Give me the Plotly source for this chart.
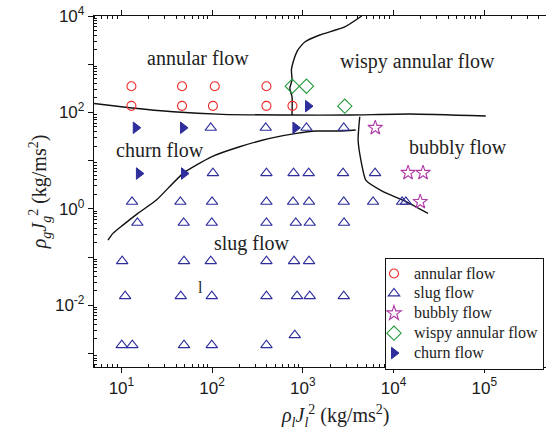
import plotly.graph_objects as go
import numpy as np

# ---------------- data ----------------
annular_x = [12.9, 46.6, 107, 397, 12.9, 46.6, 102, 397, 768]
annular_y = [350, 350, 350, 350, 137, 137, 137, 137, 137]

slug_x = [96.6, 390, 1096, 2825,
          102, 397, 790, 1160, 2773, 6252,
          13.1, 44.7, 99.8, 397, 780, 1170, 2825, 5943, 12420, 13650,
          15.0, 48.6, 99.1, 397, 836, 1191, 2844,
          10.2, 49.0, 96.6, 397, 800, 1170,
          11.0, 45.1, 99.1, 397, 863, 1191, 2825,
          10.1, 13.2, 49.0, 99.1, 397, 815]
slug_y = [48, 48, 48, 48,
          5.5, 5.5, 5.5, 5.5, 5.5, 5.5,
          1.40, 1.40, 1.40, 1.40, 1.40, 1.40, 1.40, 1.40, 1.40, 1.40,
          0.514, 0.514, 0.514, 0.514, 0.514, 0.514, 0.514,
          0.0824, 0.0824, 0.0824, 0.0824, 0.0824, 0.0824,
          0.0155, 0.0155, 0.0155, 0.0155, 0.0155, 0.0155, 0.0155,
          0.00149, 0.00149, 0.00149, 0.00149, 0.00149, 0.0024]

bubbly_x = [6280, 14450, 21130, 19680]
bubbly_y = [48, 5.6, 5.6, 1.40]

wispy_x = [764, 1096, 2900]
wispy_y = [350, 350, 135]

churn_x = [14.4, 47.8, 828, 1140, 15.6, 49.0]
churn_y = [48, 48, 48, 135, 5.4, 5.4]

# regime boundaries
b_annular_x = [5.0, 12.4, 37.1, 131, 718, 3289, 15100, 103800]
b_annular_y = [153, 125, 103, 91.2, 88.3, 88.3, 92.5, 84.1]

b_wispy_x = [760, 760, 718, 760, 748, 794, 879, 1050, 1535, 2897, 4457]
b_wispy_y = [88.3, 211, 316, 470, 757, 1222, 1968, 2884, 4036, 5916, 10000]

b_churn_x = [7.11, 8.07, 10.4, 15.2, 24.3, 47.8, 98.2, 201, 432, 849, 1413, 2553, 3828]
b_churn_y = [0.225, 0.310, 0.460, 0.805, 1.52, 5.45, 12.0, 19.4, 29.0, 36.8, 41.1, 41.1, 43.1]

b_bubbly_x = [4236, 4064, 4426, 4943, 7656, 13870, 23990]
b_bubbly_y = [81.3, 26.7, 8.91, 3.95, 2.28, 1.40, 0.805]

x_tick_vals = [10, 100, 1000, 10000, 100000]
x_tick_text = ["10<sup>1</sup>", "10<sup>2</sup>", "10<sup>3</sup>", "10<sup>4</sup>", "10<sup>5</sup>"]
y_tick_vals = [1e-3, 1e-2, 1e-1, 1, 10, 100, 1000, 10000]
y_tick_text = ["", "10<sup>-2</sup>", "", "10<sup>0</sup>", "", "10<sup>2</sup>", "", "10<sup>4</sup>"]

region_labels = ["annular flow", "wispy annular flow", "churn flow", "bubbly flow", "slug flow", "l"]
region_x = [69, 18500, 26.4, 51000, 273, 75]
region_y = [1340, 1160, 16.6, 19.1, 0.195, 0.0238]

series_names = ["annular flow", "slug flow", "bubbly flow", "wispy annular flow", "churn flow"]

# ---------------- figure ----------------
SERIF = "Liberation Serif"
SANS = "Liberation Sans"
BLUE = "#2e2e9c"


def legend_name(s):
    return '<span style="font-size:16px">' + s + '</span>'


fig = go.Figure()

for bx, by in [(b_annular_x, b_annular_y), (b_wispy_x, b_wispy_y),
               (b_churn_x, b_churn_y), (b_bubbly_x, b_bubbly_y)]:
    fig.add_trace(go.Scatter(x=bx, y=by, mode="lines", showlegend=False,
                             line=dict(color="#111", width=1.4, shape="spline", smoothing=0.5),
                             hoverinfo="skip"))

fig.add_trace(go.Scatter(x=annular_x, y=annular_y, mode="markers", name=legend_name(series_names[0]),
                         marker=dict(symbol="circle-open", size=9, color="#ee2a2a", line=dict(width=1.1))))
fig.add_trace(go.Scatter(x=slug_x, y=slug_y, mode="markers", name=legend_name(series_names[1]),
                         marker=dict(symbol="triangle-up-open", size=10, color=BLUE, line=dict(width=1.1))))
fig.add_trace(go.Scatter(x=bubbly_x, y=bubbly_y, mode="markers", name=legend_name(series_names[2]),
                         marker=dict(symbol="star-open", size=11, color="#b03aa6", line=dict(width=1.1))))
fig.add_trace(go.Scatter(x=wispy_x, y=wispy_y, mode="markers", name=legend_name(series_names[3]),
                         marker=dict(symbol="diamond-open", size=11, color="#23973a", line=dict(width=1.1))))
fig.add_trace(go.Scatter(x=churn_x, y=churn_y, mode="markers", name=legend_name(series_names[4]),
                         marker=dict(symbol="triangle-right", size=10, color=BLUE,
                                     line=dict(width=1, color=BLUE))))

for t, xv, yv in zip(region_labels, region_x, region_y):
    fig.add_annotation(x=np.log10(xv), y=np.log10(yv), xref="x", yref="y", text=t,
                       showarrow=False, font=dict(family=SERIF, size=20 if t != "l" else 16, color="#222"))

# x axis title placed as annotation (original plot is cropped on the right)
fig.add_annotation(x=(335 - 94) / 452, y=-0.14, xref="paper", yref="paper",
                   text="<i>ρ</i><sub><i>l</i></sub><i>J</i><sub><i>l</i></sub><sup>2</sup> (kg/ms<sup>2</sup>)",
                   showarrow=False, xanchor="center", yanchor="middle",
                   font=dict(family=SERIF, size=20, color="#222"))

minor_x = [k * 10.0 ** d for d in range(0, 6) for k in range(2, 10)]
minor_y = [k * 10.0 ** d for d in range(-4, 4) for k in range(2, 10)]

fig.update_xaxes(type="log", range=[0.698, 5.68],
                 tickvals=x_tick_vals, ticktext=x_tick_text,
                 ticks="outside", ticklen=5, tickwidth=1.2, tickcolor="#111",
                 showline=True, linecolor="#111", linewidth=1.3, mirror="ticks",
                 showgrid=False, zeroline=False,
                 tickfont=dict(family=SANS, size=17, color="#1a1a1a"),
                 minor=dict(tickvals=minor_x, ticks="inside", ticklen=2.5, tickwidth=1, tickcolor="#111", showgrid=False))
fig.update_yaxes(type="log", range=[-3.28, 4.0],
                 tickvals=y_tick_vals, ticktext=y_tick_text,
                 ticks="outside", ticklen=5, tickwidth=1.2, tickcolor="#111",
                 showline=True, linecolor="#111", linewidth=1.3, mirror=False,
                 showgrid=False, zeroline=False,
                 tickfont=dict(family=SANS, size=17, color="#1a1a1a"),
                 title=dict(text="<i>ρ</i><sub><i>g</i></sub><i>J</i><sub><i>g</i></sub><sup>2</sup> (kg/ms<sup>2</sup>)",
                            font=dict(family=SERIF, size=20, color="#222"), standoff=2),
                 minor=dict(tickvals=minor_y, ticks="inside", ticklen=2.5, tickwidth=1, tickcolor="#111", showgrid=False))

fig.update_layout(
    width=546, height=443,
    margin=dict(l=94, r=0, t=16, b=76, autoexpand=False),
    paper_bgcolor="white", plot_bgcolor="white",
    showlegend=True,
    legend=dict(x=(385 - 94) / 452, y=(366.7 - 257.3) / 350.7, xanchor="left", yanchor="top",
                bgcolor="white", bordercolor="#111", borderwidth=1,
                font=dict(family=SERIF, size=13, color="#222"),
                tracegroupgap=0, indentation=-12, itemwidth=30),
)

fig.write_html("out.html")
